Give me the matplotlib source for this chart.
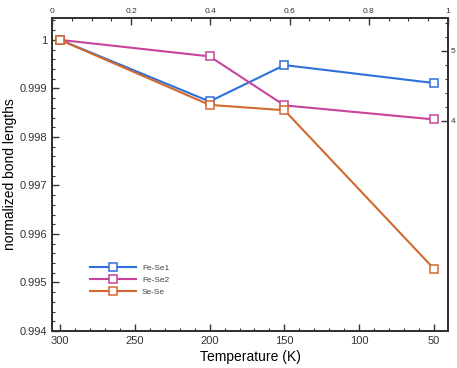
import matplotlib
matplotlib.use("Agg")
import matplotlib.pyplot as plt
import matplotlib.ticker as mticker
import numpy as np

plt.rcParams["font.family"] = ["Liberation Sans", "DejaVu Sans"]

temperature = [300, 200, 150, 50]
fe_se1 = [1.0, 0.99873, 0.99948, 0.99911]
fe_se2 = [1.0, 0.99966, 0.99865, 0.99836]
se_se = [1.0, 0.99866, 0.99855, 0.99528]

series = [
    ("Fe-Se1", fe_se1, "#2f6fdc"),
    ("Fe-Se2", fe_se2, "#c8449c"),
    ("Se-Se", se_se, "#d2692e"),
]

AX_COLOR = "#333333"

fig = plt.figure(figsize=(4.57, 3.68), dpi=100)
ax = fig.add_axes([0.1138, 0.1005, 0.8665, 0.8505])

for name, vals, col in series:
    ax.plot(temperature, vals, color=col, lw=1.5, marker="s", ms=5.2,
            mfc="white", mec=col, mew=1.1, label=name, zorder=3)

ax.set_xlim(305.3, 40.7)
ax.set_ylim(0.994, 1.00045)
ax.xaxis.set_major_locator(mticker.MultipleLocator(50))
ax.xaxis.set_minor_locator(mticker.MultipleLocator(10))
ax.yaxis.set_major_locator(mticker.MultipleLocator(0.001))
ax.yaxis.set_minor_locator(mticker.MultipleLocator(0.0002))
ax.yaxis.set_major_formatter(mticker.FormatStrFormatter("%g"))
ax.tick_params(which="both", direction="in", colors=AX_COLOR, labelsize=8,
               top=False, right=False)
ax.tick_params(which="major", length=5, width=1)
ax.tick_params(which="minor", length=2.5, width=0.8)
for s in ax.spines.values():
    s.set_color(AX_COLOR)
    s.set_linewidth(1.2)

ax.set_xlabel("Temperature (K)", fontsize=10, labelpad=3)
ax.set_ylabel("normalized bond lengths", fontsize=10, labelpad=2)

# top axis
axt = ax.twiny()
axt.set_xlim(0, 1)
axt.xaxis.set_major_locator(mticker.MultipleLocator(0.2))
axt.xaxis.set_minor_locator(mticker.MultipleLocator(0.05))
axt.xaxis.set_major_formatter(mticker.FormatStrFormatter("%g"))
axt.tick_params(which="both", direction="in", colors=AX_COLOR, labelsize=6, pad=2)
axt.tick_params(which="major", length=5, width=1)
axt.tick_params(which="minor", length=2.5, width=0.8)

# right axis
axr = ax.twinx()
axr.set_ylim(1, 5.47)
axr.yaxis.set_major_locator(mticker.FixedLocator([4, 5]))
axr.yaxis.set_minor_locator(mticker.FixedLocator(np.arange(4, 5.5, 0.2)))
axr.yaxis.set_major_formatter(mticker.FormatStrFormatter("%g"))
axr.tick_params(which="both", direction="in", colors=AX_COLOR, labelsize=6, pad=2)
axr.tick_params(which="major", length=5, width=1)
axr.tick_params(which="minor", length=2.5, width=0.8)
for a in (axt, axr):
    for s in a.spines.values():
        s.set_color(AX_COLOR)
        s.set_linewidth(1.2)

ax.legend(loc="upper left", bbox_to_anchor=(0.095, 0.215), frameon=False,
          fontsize=6, handlelength=5.6, handletextpad=0.7, labelspacing=0.55,
          borderpad=0, borderaxespad=0, labelcolor="#444444")

fig.savefig("out.png", dpi=100)
